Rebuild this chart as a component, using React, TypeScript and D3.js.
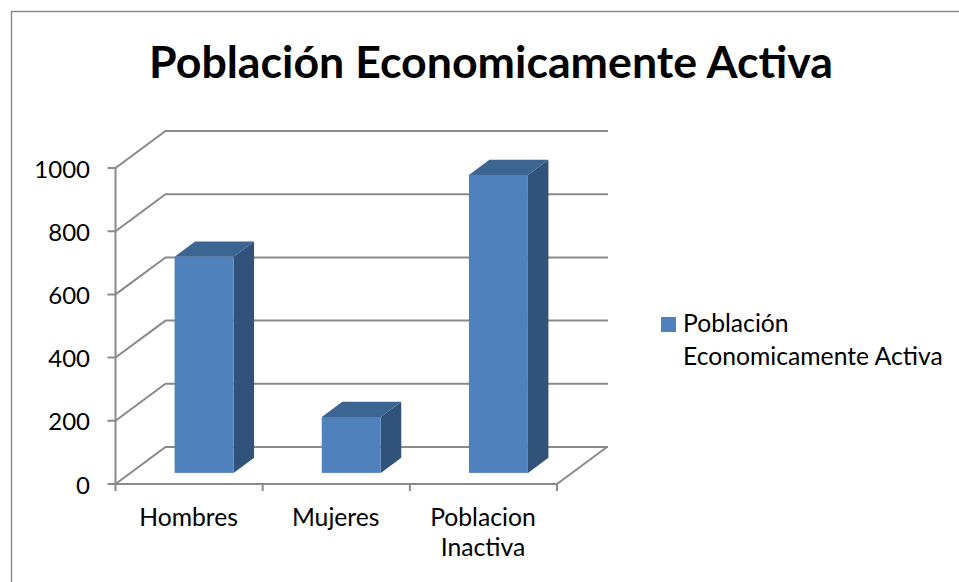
import React from "react";
import * as d3 from "d3";

const categories: string[][] = [["Hombres"], ["Mujeres"], ["Poblacion", "Inactiva"]];
const categoryKeys = ["Hombres", "Mujeres", "Poblacion Inactiva"];
const values = [684, 177, 943];
const yTicks = [0, 200, 400, 600, 800, 1000];
const titleText = "Población Economicamente Activa";
const legendLines = ["Población", "Economicamente Activa"];

const FONT = "Lato, Carlito, 'Open Sans', sans-serif";
const GRID = "#8a8a8a";
const FRONT = "#4f81bd";
const TOP = "#3d6592";
const SIDE = "#31527a";

const x = d3.scaleBand<string>().domain(categoryKeys).range([115.5, 557]).padding(0);
const y = d3.scaleLinear().domain([0, 1000]).range([484, 168]);
const dx = d3.scaleLinear().domain([0, 1]).range([0, 50]);
const dy = d3.scaleLinear().domain([0, 1]).range([0, -37]);

const BAR_W = 59;
const D0 = 0.3;
const D1 = 0.71;

const poly = d3.line<[number, number]>();

export default function App() {
  const frontRight = x.range()[1];
  const frontLeft = x.range()[0];
  return (
    <svg width={959} height={582} style={{ position: "absolute", left: 0, top: 0, background: "#fff" }} fontFamily={FONT}>
      <path d="M11.5 582V11.5H959" fill="none" stroke={GRID} strokeWidth={1.4} />
      <text x={491} y={78} textAnchor="middle" fontSize={44.7} fontWeight={700} fill="#000">{titleText}</text>

      {yTicks.map((t) => (
        <g key={t}>
          <path
            d={poly([[frontLeft - 8, y(t)], [frontLeft, y(t)], [frontLeft + dx(1), y(t) + dy(1)], [frontLeft + dx(1) + 442.5, y(t) + dy(1)]]) ?? ""}
            fill="none" stroke={GRID} strokeWidth={2}
          />
          <text x={90} y={y(t) + 9.5} textAnchor="end" fontSize={24} fill="#000">{t}</text>
        </g>
      ))}
      <path d={`M${frontLeft} ${y(1000)}V${y(0)}H${frontRight}L${frontRight + dx(1)} ${y(0) + dy(1)}`} fill="none" stroke={GRID} strokeWidth={2} />
      {[...categoryKeys.map((c) => x(c) as number), frontRight].map((px) => (
        <path key={px} d={`M${px} ${y(0)}v7`} stroke={GRID} strokeWidth={2} />
      ))}

      {categoryKeys.map((c, i) => {
        const cx = (x(c) as number) + x.bandwidth() / 2;
        const l = cx - BAR_W / 2 + dx(D0);
        const r = l + BAR_W;
        const b = y(0) + dy(D0);
        const t = y(values[i]) + dy(D0);
        const ox = dx(D1 - D0);
        const oy = dy(D1 - D0);
        return (
          <g key={c}>
            <path d={poly([[r, t], [r + ox, t + oy], [r + ox, b + oy], [r, b]]) + "Z"} fill={SIDE} />
            <path d={poly([[l, t], [l + ox, t + oy], [r + ox, t + oy], [r, t]]) + "Z"} fill={TOP} />
            <rect x={l} y={t} width={BAR_W} height={b - t} fill={FRONT} />
          </g>
        );
      })}

      {categoryKeys.map((c, i) => (
        <text key={c} textAnchor="middle" fontSize={24.7} fill="#000">
          {categories[i].map((line, j) => (
            <tspan key={line} x={(x(c) as number) + x.bandwidth() / 2 - 0.5} y={526 + j * 30}>{line}</tspan>
          ))}
        </text>
      ))}

      <rect x={661} y={317} width={15} height={15} fill={FRONT} />
      {legendLines.map((line, j) => (
        <text key={line} x={683} y={332 + j * 33} fontSize={24.7} fill="#000">{line}</text>
      ))}
    </svg>
  );
}
